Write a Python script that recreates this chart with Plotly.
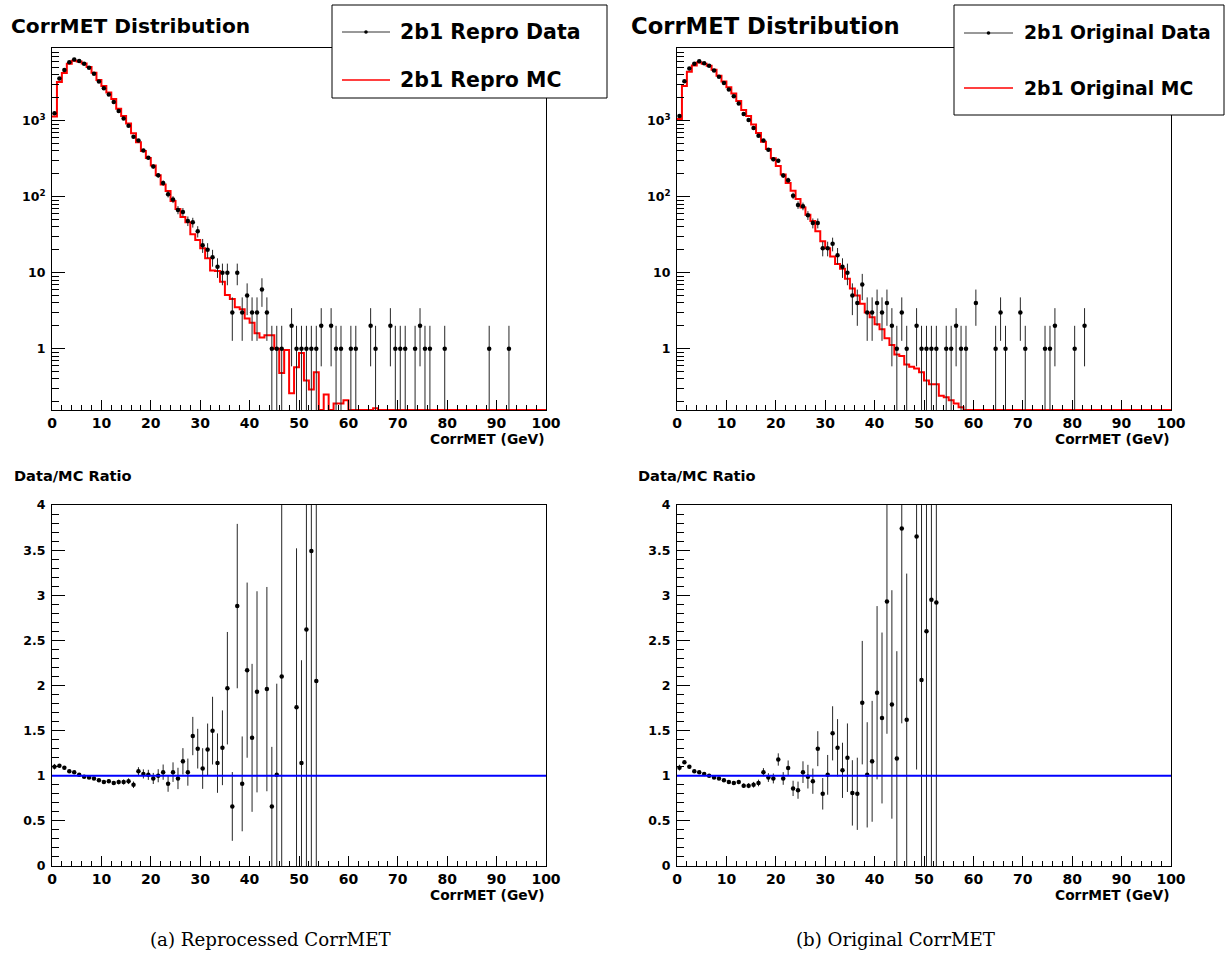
import numpy as np
import plotly.graph_objects as go

# ---------------- data ----------------
BIN_EDGES = list(range(0, 101))          # 1 GeV bins, 0..100 GeV

repro_data = [
    1250, 3600, 4640, 5900, 6400, 6090, 5610, 4980, 4150, 3270,
    2670, 2210, 1770, 1340, 1070, 861, 617, 548, 406, 325,
    250, 191, 151, 108, 92, 67, 63, 48, 46, 35,
    23, 20, 16, 12, 10, 10, 3, 10, 3, 5,
    3, 3, 6, 3, 1, 1, 1, 0, 2, 1,
    1, 1, 1, 1, 2, 0, 2, 1, 1, 0,
    1, 1, 0, 0, 2, 1, 0, 0, 2, 1,
    1, 1, 0, 1, 2, 1, 1, 0, 0, 1,
    0, 0, 0, 0, 0, 0, 0, 0, 1, 0,
    0, 0, 1, 0, 0, 0, 0, 0, 0, 0,
]
repro_mc = [
    1136, 3243, 4257, 5619, 6154, 6030, 5667, 5082, 4278, 3442,
    2871, 2351, 1924, 1441, 1151, 916, 686, 522, 398, 322,
    258, 191, 145, 119, 88, 69, 54, 46, 32, 27,
    21, 15.5, 10.7, 10.5, 7.6, 5.1, 4.5, 3.5, 3.3, 2.5,
    2.2, 1.6, 1.4, 1.5, 1.5, 1.0, 0.48, 0.96, 0.26, 0.57,
    0.88, 0.38, 0.29, 0.49, 0, 0.25, 0, 0.19, 0.19, 0.21,
    0, 0, 0, 0, 0, 0.165, 0, 0, 0, 0,
    0, 0, 0, 0, 0, 0, 0, 0, 0, 0,
    0, 0, 0, 0, 0, 0, 0, 0, 0, 0,
    0, 0, 0, 0, 0, 0, 0, 0, 0, 0,
]
orig_data = [
    1150, 3300, 4860, 5600, 6060, 5710, 5280, 4590, 3790, 3130,
    2570, 2100, 1690, 1230, 1020, 800, 632, 548, 415, 310,
    298, 190, 165, 103, 78, 75, 57, 45, 45, 21,
    21, 24, 17, 12, 10, 5, 4, 7, 3, 3,
    4, 3, 4, 2, 1, 3, 1, 0, 2, 1,
    1, 1, 1, 0, 1, 1, 2, 1, 1, 0,
    4, 0, 0, 0, 1, 3, 1, 0, 0, 3,
    1, 0, 0, 0, 1, 1, 2, 0, 0, 0,
    1, 0, 2, 0, 0, 0, 0, 0, 0, 0,
    0, 0, 0, 0, 0, 0, 0, 0, 0, 0,
]
orig_mc = [
    1055, 2870, 4420, 5330, 5830, 5600, 5280, 4680, 3910, 3290,
    2760, 2280, 1820, 1380, 1150, 890, 690, 527, 423, 320,
    253, 196, 152, 120, 93, 72, 58, 48, 35, 26,
    21, 16.3, 13, 11.3, 8.3, 6.2, 5.0, 3.9, 3.0, 2.6,
    2.1, 1.8, 1.37, 1.12, 0.84, 0.80, 0.62, 0.58, 0.55, 0.49,
    0.38, 0.34, 0.34, 0.24, 0.23, 0.21, 0.19, 0.17, 0, 0,
    0, 0, 0, 0, 0, 0, 0, 0, 0, 0,
    0, 0, 0, 0, 0, 0, 0, 0, 0, 0,
    0, 0, 0, 0, 0, 0, 0, 0, 0, 0,
    0, 0, 0, 0, 0, 0, 0, 0, 0, 0,
]
# Data/MC ratio per bin (bins 0..53); None = not drawn
repro_ratio = [
    1.10, 1.11, 1.09, 1.05, 1.04, 1.01, 0.99, 0.98, 0.97, 0.95,
    0.93, 0.94, 0.92, 0.93, 0.93, 0.94, 0.90, 1.05, 1.02, 1.01,
    0.97, 1.00, 1.04, 0.91, 1.04, 0.97, 1.16, 1.04, 1.44, 1.30,
    1.08, 1.29, 1.50, 1.14, 1.31, 1.97, 0.66, 2.88, 0.91, 2.17,
    1.42, 1.93, None, 1.96, 0.66, 1.01, 2.10, None, None, 1.76,
    1.14, 2.62, 3.49, 2.05,
]
orig_ratio = [
    1.09, 1.15, 1.10, 1.05, 1.04, 1.02, 1.00, 0.98, 0.97, 0.95,
    0.93, 0.92, 0.93, 0.89, 0.89, 0.90, 0.92, 1.04, 0.98, 0.97,
    1.18, 0.97, 1.085, 0.86, 0.84, 1.04, 0.99, 0.94, 1.30, 0.80,
    1.01, 1.47, 1.31, 1.06, 1.20, 0.81, 0.80, 1.81, 1.01, 1.16,
    1.92, 1.64, 2.93, 1.79, 1.19, 3.74, 1.62, None, 3.65, 2.06,
    2.60, 2.95, 2.92,
]
LOG_DECADES = [1, 10, 100, 1000]
LOG_LABELS = ["1", "10", "10<sup>2</sup>", "10<sup>3</sup>"]
RATIO_REF = 1.0

# ---------------- layout helpers ----------------
W, H = 1225, 964
def fx(p):  # pixel -> paper x
    return p / W
def fy(p):  # pixel -> paper y
    return 1 - p / H

TOP_Y = (48, 410)
BOT_Y = (505, 866)
LEFT_X = (52, 546)
RIGHT_X = (677, 1171)
LOG_RANGE = [-0.807, 3.957]
YMIN = 10 ** LOG_RANGE[0]

FONT = "DejaVu Sans"
edges = np.array(BIN_EDGES, float)
centers = edges[:-1] + 0.5

fig = go.Figure()

def add_data(counts, xa, ya):
    c = np.array(counts, float)
    y = [v if v > 0 else None for v in c]
    err = np.sqrt(c)
    fig.add_trace(go.Scatter(
        x=centers, y=y, mode="markers", xaxis=xa, yaxis=ya,
        marker=dict(color="black", size=4.5),
        error_y=dict(type="data", array=err, arrayminus=err,
                     color="#262626", thickness=1, width=0),
        showlegend=False, hoverinfo="x+y"))

def add_mc(vals, xa, ya):
    v = np.maximum(np.array(vals, float), YMIN)
    y = list(v) + [v[-1]]
    fig.add_trace(go.Scatter(
        x=edges, y=y, mode="lines", line_shape="hv", xaxis=xa, yaxis=ya,
        line=dict(color="#ff0000", width=2), showlegend=False, hoverinfo="x+y"))

def add_ratio(ratio, counts, xa, ya):
    r = list(ratio)
    n = len(r)
    c = np.array(counts[:n], float)
    err = [(rv / np.sqrt(cv)) if (rv is not None and cv > 0) else None
           for rv, cv in zip(r, c)]
    fig.add_trace(go.Scatter(
        x=centers[:n], y=r, mode="markers", xaxis=xa, yaxis=ya,
        marker=dict(color="black", size=4.5),
        error_y=dict(type="data", array=err, arrayminus=err,
                     color="#262626", thickness=1, width=0),
        showlegend=False, hoverinfo="x+y"))

add_mc(repro_mc, "x", "y")
add_data(repro_data, "x", "y")
add_mc(orig_mc, "x2", "y2")
add_data(orig_data, "x2", "y2")
add_ratio(repro_ratio, repro_data, "x3", "y3")
add_ratio(orig_ratio, orig_data, "x4", "y4")

tickfont_x = dict(family=FONT, size=14, color="black", weight="bold")
tickfont_y = dict(family=FONT, size=12.5, color="black", weight="bold")

def xaxis_cfg(xd, anchor):
    return dict(domain=[fx(xd[0]), fx(xd[1])], anchor=anchor, range=[0, 100],
                tickmode="linear", tick0=0, dtick=10, ticks="inside", ticklen=10,
                tickcolor="black", tickwidth=1,
                minor=dict(dtick=2, ticks="inside", ticklen=5, tickcolor="black", tickwidth=1),
                showline=True, linecolor="black", linewidth=1, mirror=True,
                showgrid=False, zeroline=False, tickfont=tickfont_x,
                ticklabelstandoff=0, automargin=False)

minor_log = []
for d in [0.1, 1, 10, 100, 1000]:
    for k in range(2, 10):
        minor_log.append(k * d)

def ylog_cfg(yd, anchor):
    return dict(domain=[fy(yd[1]), fy(yd[0])], anchor=anchor, type="log",
                range=LOG_RANGE, tickmode="array", tickvals=LOG_DECADES,
                ticktext=LOG_LABELS, ticks="inside", ticklen=13,
                tickcolor="black", tickwidth=1,
                minor=dict(tickmode="array", tickvals=minor_log, ticks="inside",
                           ticklen=7, tickcolor="black", tickwidth=1),
                showline=True, linecolor="black", linewidth=1, mirror=True,
                showgrid=False, zeroline=False, tickfont=tickfont_y,
                ticklabelstandoff=3, automargin=False)

def yratio_cfg(yd, anchor):
    return dict(domain=[fy(yd[1]), fy(yd[0])], anchor=anchor, range=[0, 4],
                tickmode="linear", tick0=0, dtick=0.5, ticks="inside", ticklen=13,
                tickcolor="black", tickwidth=1,
                minor=dict(dtick=0.1, ticks="inside", ticklen=7, tickcolor="black", tickwidth=1),
                showline=True, linecolor="black", linewidth=1, mirror=True,
                showgrid=False, zeroline=False, tickfont=tickfont_y,
                ticklabelstandoff=3, automargin=False)

fig.update_layout(
    width=W, height=H, margin=dict(l=0, r=0, t=0, b=0, pad=0),
    paper_bgcolor="white", plot_bgcolor="white", showlegend=False,
    xaxis=xaxis_cfg(LEFT_X, "y"), yaxis=ylog_cfg(TOP_Y, "x"),
    xaxis2=xaxis_cfg(RIGHT_X, "y2"), yaxis2=ylog_cfg(TOP_Y, "x2"),
    xaxis3=xaxis_cfg(LEFT_X, "y3"), yaxis3=yratio_cfg(BOT_Y, "x3"),
    xaxis4=xaxis_cfg(RIGHT_X, "y4"), yaxis4=yratio_cfg(BOT_Y, "x4"),
)

shapes = []
# reference lines at ratio = 1
for xr, yr in [("x3", "y3"), ("x4", "y4")]:
    shapes.append(dict(type="line", xref=xr, yref=yr, x0=0, x1=100,
                       y0=RATIO_REF, y1=RATIO_REF, line=dict(color="#0000ff", width=2),
                       layer="above"))

annotations = []
def text(s, x, y, size, xanchor="left", family=FONT, weight="bold"):
    annotations.append(dict(text=s, x=fx(x), y=fy(y), xref="paper", yref="paper",
                            xanchor=xanchor, yanchor="middle", showarrow=False,
                            borderpad=0,
                            font=dict(family=family, size=size, color="black", weight=weight)))

# legends (box, symbols, labels)
def legend(box, line_x, ys, labels, tx, size):
    shapes.append(dict(type="rect", xref="paper", yref="paper",
                       x0=fx(box[0]), x1=fx(box[1]), y0=fy(box[3]), y1=fy(box[2]),
                       line=dict(color="black", width=1), fillcolor="white", layer="above"))
    shapes.append(dict(type="line", xref="paper", yref="paper",
                       x0=fx(line_x[0]), x1=fx(line_x[1]), y0=fy(ys[0]), y1=fy(ys[0]),
                       line=dict(color="#333333", width=1), layer="above"))
    mx = (line_x[0] + line_x[1]) / 2
    shapes.append(dict(type="circle", xref="paper", yref="paper",
                       x0=fx(mx - 1.8), x1=fx(mx + 1.8), y0=fy(ys[0] + 1.8), y1=fy(ys[0] - 1.8),
                       line=dict(color="black", width=0), fillcolor="black", layer="above"))
    shapes.append(dict(type="line", xref="paper", yref="paper",
                       x0=fx(line_x[0]), x1=fx(line_x[1]), y0=fy(ys[1]), y1=fy(ys[1]),
                       line=dict(color="#ff0000", width=1.5), layer="above"))
    text(labels[0], tx, ys[0], size)
    text(labels[1], tx, ys[1], size)

legend((332, 607, 5, 98), (342, 390), (32, 80), ("2b1 Repro Data", "2b1 Repro MC"), 399, 20.5)
legend((954, 1224, 5, 115), (964, 1013), (33, 88), ("2b1 Original Data", "2b1 Original MC"), 1023, 18.8)

text("CorrMET Distribution", 10, 26, 20.2)
text("CorrMET Distribution", 630, 26, 22.7)
text("Data/MC Ratio", 13, 475, 14.6)
text("Data/MC Ratio", 637, 475, 14.6)
for xr in (546, 1171):
    text("CorrMET (GeV)", xr, 439, 13.8, xanchor="right")
    text("CorrMET (GeV)", xr, 895, 13.8, xanchor="right")
text("(a) Reprocessed CorrMET", 270, 939, 18.2, xanchor="center", family="DejaVu Serif", weight="normal")
text("(b) Original CorrMET", 895, 939, 18.2, xanchor="center", family="DejaVu Serif", weight="normal")

fig.update_layout(shapes=shapes, annotations=annotations)
fig.write_html("out.html",
               config={"displayModeBar": False},
               post_script="document.body.style.margin='0';document.body.style.overflow='hidden';")
